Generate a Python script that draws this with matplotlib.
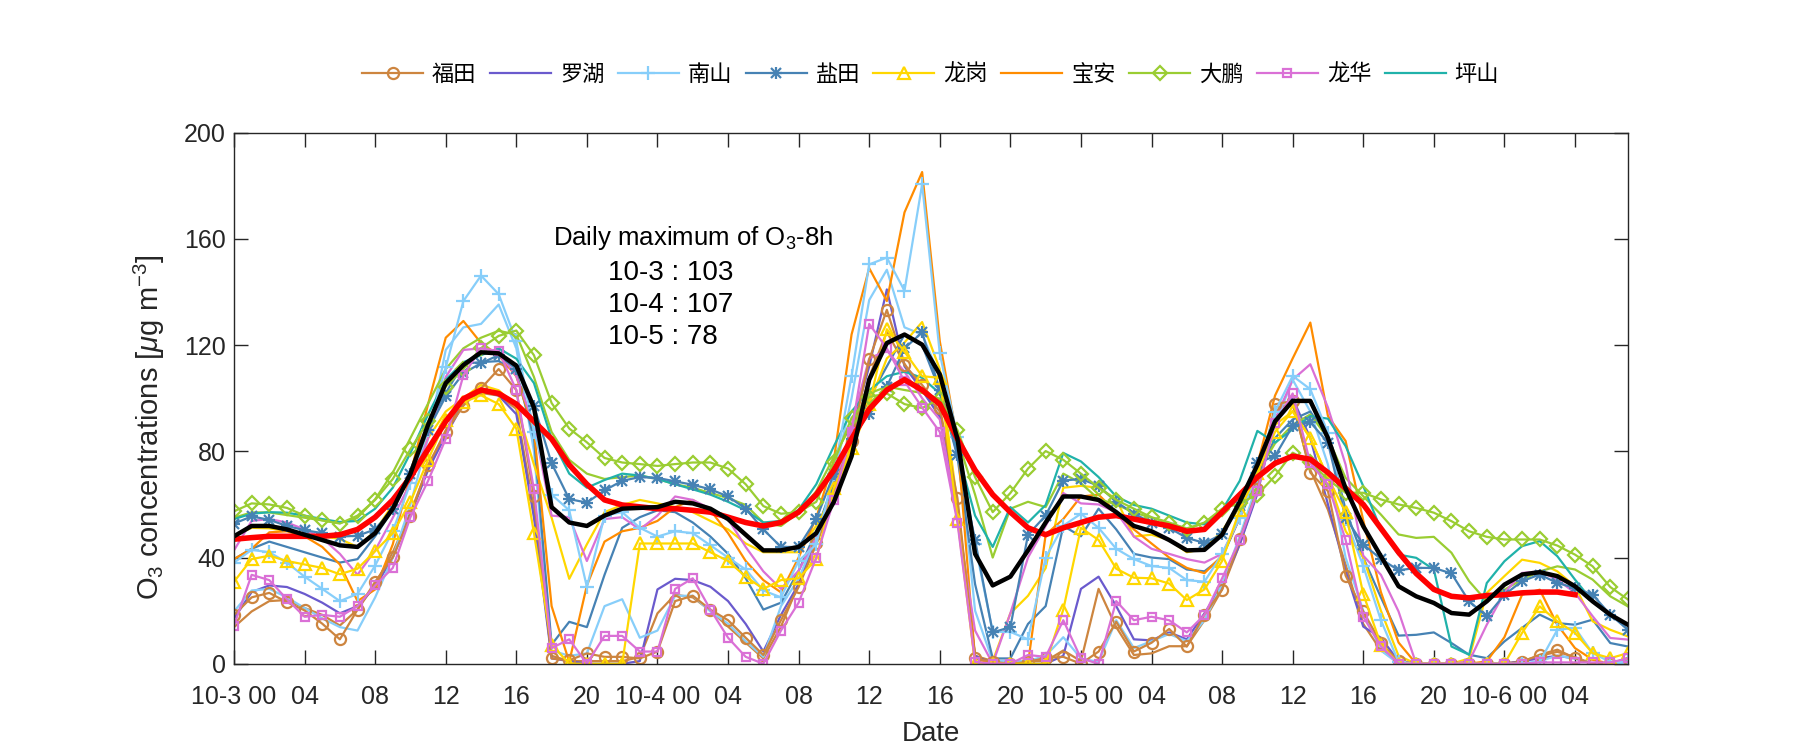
import matplotlib
matplotlib.use('Agg')
import matplotlib.pyplot as plt
import numpy as np

plt.rcParams['font.family'] = ['Liberation Sans', 'Noto Sans CJK SC', 'DejaVu Sans']
plt.rcParams['mathtext.fontset'] = 'custom'
plt.rcParams['mathtext.rm'] = 'Liberation Sans'
plt.rcParams['mathtext.it'] = 'Liberation Sans:italic'

hours = np.arange(80)
tick_pos = np.arange(0, 80, 4)
tick_labels = ['10-3 00', '04', '08', '12', '16', '20',
               '10-4 00', '04', '08', '12', '16', '20',
               '10-5 00', '04', '08', '12', '16', '20',
               '10-6 00', '04']

# 站点名称与颜色
stations = ['福田', '罗湖', '南山', '盐田', '龙岗', '宝安', '大鹏', '龙华', '坪山']
colors = ['#CD853F', '#6A5ACD', '#87CEFA', '#4682B4', '#FFD700',
          '#FF8C00', '#9ACD32', '#DA70D6', '#20B2AA']

# 带标记的站点序列 (µg m-3)
futian_m = [18.4, 25, 26.7, 23.2, 20.1, 15.1, 9.2, 20.4, 30.9, 40.1, 55.8, 74.9, 87.3, 97.2, 103.7, 111, 103.1,
            63, 2, 1.3, 3.9, 2.6, 2.6, 2, 4.6, 23.6, 25.6, 20.4, 16.4, 9.8, 3.3, 16.4,
            28.9, 45.3, 65.7, 84, 114.6, 133.3, 112.5, 105, 96.5, 62.4, 2, 0.7, 0, 0.7, 2.2, 2.6,
            0, 4.6, 15.8, 4.6, 7.9, 13.1, 6.5, 18.5, 27.9, 46.8, 65.7, 97.7, 99, 72, 65, 33.2,
            19.7, 7.8, 0.9, 0, 0, 0, 0, 0, 0, 0.7, 3.4, 5.3, 2.1, 0, 0, 2.2]
nanshan_m = [38.1, 42.9, 42, 38.1, 32.8, 28.2, 23.6, 26.3, 37, 50, 68, 88, 111.6, 136.6, 146.2, 139.2, 121.5,
             87.3, 63.7, 57.8, 28.9, 55.8, 57.1, 51.2, 47.9, 49.9, 49.2, 44.6, 40, 35.5, 27.6, 25,
             38.7, 45, 71.6, 108.3, 150.4, 153, 140.5, 180.6, 116.9, 85.4, 45, 12, 12, 9.2, 40, 52,
             56.5, 51.2, 43.3, 39.4, 36.8, 36.1, 31.5, 30.9, 41.4, 55, 72, 95, 108.4, 103.4, 87, 54.5,
             36.8, 16.4, 0.7, 0, 0, 0, 0, 0, 0, 0, 0.7, 12.8, 13.5, 4, 0.7, 0.7]
yantian_m = [52.8, 55.5, 54.2, 51.9, 50.3, 49.2, 47.9, 48.2, 50.6, 58.4, 71.6, 88, 100.7, 109.4, 113.2, 116.2, 111,
             97.2, 75.5, 62, 60.7, 65.3, 68.9, 70.3, 70, 68.7, 67.4, 65.7, 63, 58.4, 50.6, 44,
             44, 54.5, 71.6, 84.7, 94.2, 104.4, 118.8, 124.8, 103.1, 78.8, 46.6, 11.8, 13.8, 48.6, 55.8, 69,
             69.6, 67, 61, 56.5, 53.2, 51.2, 47.4, 45.5, 48.7, 59.4, 75.7, 78.2, 89.6, 91, 83.3, 55,
             44.9, 39.5, 35.2, 36.1, 36.1, 34, 23.5, 17.9, 26, 31.1, 33.6, 30.4, 28.6, 26, 18.5, 12.8]
longgang_m = [30.9, 39.4, 40.7, 38.7, 37.4, 36.1, 33.7, 35.8, 42.4, 49.2, 61, 76.8, 91.9, 98.5, 101.1, 97.8, 88.6,
              49.2, 7.2, 0, 0, 0, 0, 45.3, 45.3, 45.3, 45.3, 42, 38.7, 32.8, 28.2, 31.5,
              32.2, 39.4, 66.3, 81.4, 97.8, 126, 117.5, 108.3, 107.7, 54.5, 0, 0, 0, 0, 0, 20.4,
              51.2, 46.6, 35.8, 32.4, 32.2, 30.2, 24, 28, 38.7, 58, 72, 87.3, 95.2, 85, 70, 57,
              26.3, 7.2, 0, 0, 0, 0, 0, 0, 0, 11.6, 21.6, 16, 11.6, 4, 2.1, 4]
dapeng_m = [57.4, 60.4, 60, 58.7, 55.8, 54, 52.8, 55.8, 61.7, 69.6, 80.8, 91.3, 104.4, 111, 118.9, 123.5, 125.5,
            116.2, 98.2, 88.6, 83.4, 77.5, 75.8, 75.2, 74.5, 75.2, 75.8, 75.8, 73.5, 67.6, 59.4, 56.5,
            57.1, 61, 76, 92.6, 100.5, 101.8, 97.8, 96.3, 99.8, 88, 70.3, 57.1, 64.3, 73.5, 80.1, 76.8,
            71.6, 66.3, 61.7, 58.4, 55.2, 53.2, 50.6, 53.2, 58.4, 60.4, 63.7, 70.7, 79.5, 76, 69.4, 64.4,
            64.4, 61.9, 60, 58.7, 56.9, 53.7, 49.9, 47.8, 46.8, 46.8, 46.8, 44.5, 41.1, 36.7, 28.9, 24.2]
longhua_m = [14.4, 33.5, 31.5, 24.3, 17.7, 18.4, 17.7, 21.7, 29.5, 36.1, 55.2, 68.9, 84.7, 108.6, 118.8, 117.8, 103.1,
             65.7, 5.9, 9.2, 0, 10.5, 10.5, 4.6, 4.6, 28.2, 32.2, 20.4, 9.8, 2.6, 0, 12.5,
             23, 40, 61.7, 87.3, 128, 118.8, 106.4, 96.5, 87.3, 53.2, 0.7, 0, 0, 3.3, 2.6, 16.4,
             2, 0, 23.6, 16.4, 17.7, 16.4, 11.8, 18.4, 32.2, 46.6, 65, 90.6, 101.8, 75.5, 67.6, 46.6,
             17.7, 6.6, 0, 0, 0, 0, 0, 0, 0, 0, 0.5, 0.5, 0.5, 0.5, 0.5, 2]

# 无标记的站点序列
futian_p = [13.8, 19.7, 23.6, 24, 21, 18.4, 14.4, 20.4, 30, 42, 57, 74, 88, 99, 102, 101, 96,
            58, 3, 1, 1, 1, 1, 2.5, 19, 26, 25, 20, 14, 8, 2, 14,
            30, 45, 62, 83, 108, 125, 113, 103, 95, 60, 3, 1, 1, 1, 1, 5,
            1, 28.2, 13.8, 3.3, 3.9, 6.6, 6.6, 16.4, 28, 45, 65, 96.5, 97.8, 73, 58, 37.4,
            15, 5, 1, 0, 0, 0, 0, 0, 0, 1, 3, 4.5, 2.5, 0, 0, 2]
luohu_p = [17, 27, 29.5, 28.9, 26.3, 23, 19, 21.7, 29, 40, 56, 73, 86, 98, 103, 101, 94,
           55, 2, 1, 0, 0, 0, 1, 28, 32, 31.5, 29, 23.6, 15, 4.6, 18.4,
           30, 48, 68, 88, 112, 141, 112, 103, 93, 55, 3, 0, 0, 0, 0, 3,
           28.2, 32.8, 21.7, 9.2, 8.8, 11.8, 9.2, 19, 29.5, 45, 64, 92, 100, 85, 60, 35,
           14, 9.8, 1, 0, 0, 0, 0, 0, 0, 1, 2, 3, 2, 0, 0, 1]
nanshan_p = [19.7, 27.6, 28.2, 25, 21, 17.1, 13.8, 12.5, 25, 40, 60, 85, 118.2, 126.7, 128, 135.3, 118.8,
             80, 5, 3, 3.9, 21.7, 24.3, 9.8, 12.5, 25.6, 25.6, 19.7, 15.1, 8.5, 2.6, 21.7,
             32, 48, 70, 100, 137, 148.4, 126.7, 124, 108.3, 84.7, 20, 1, 1, 1, 3, 10,
             2, 0.7, 16.4, 5.9, 8.5, 11.2, 8.5, 16.4, 30, 48, 68, 90, 107, 95, 75, 40,
             20, 5, 0, 0, 0, 0, 0, 0, 0, 0, 1, 3, 2, 0, 0, 0]
yantian_p = [39.4, 43.3, 46, 44, 42, 40, 38.1, 39.4, 48, 58, 73, 90, 102, 113, 113.6, 114, 110,
             85, 7.2, 15.8, 13.8, 33.5, 51.2, 55.2, 57.8, 57.1, 53.2, 47.9, 41.4, 32.2, 20.4, 23,
             35, 50, 68, 85, 100, 112, 124, 120, 103, 78, 30, 2, 2, 15, 21.7, 51.9,
             48, 58.4, 50.6, 41.4, 40, 39.4, 35.5, 34.8, 40, 55, 70, 85, 92, 95, 85, 58,
             40, 25, 10.6, 10.9, 11.8, 7.8, 3.4, 2.1, 8.4, 13.5, 18.5, 15.3, 14.7, 16.6, 7.8, 6.5]
longgang_p = [48, 51.2, 51, 50, 49, 48, 47, 44, 50, 60, 72, 85, 95, 100, 105, 103, 97,
              75, 55, 32, 45, 57.1, 59.8, 61.7, 60.4, 59, 57.1, 53.8, 50.6, 45.3, 42, 42,
              42, 52, 64, 80, 98, 115, 121, 128.7, 111, 60, 0, 1, 19, 25.6, 36, 66.3,
              67, 66.3, 62, 47.9, 48.6, 46.6, 42, 43.3, 50, 60, 75, 90, 95, 85, 70, 50,
              40, 20, 3, 0, 0, 0, 2, 26.7, 33, 39.2, 38, 34.8, 29.2, 16, 12.8, 10.3]
baoan_p = [39.4, 43.3, 49.5, 49.9, 48, 44, 37.4, 23.6, 28, 45, 71.6, 97.8, 122.8, 129.1, 120.8, 116.2, 108.3,
           88, 21.7, 0.7, 29.5, 46, 49.9, 51.2, 53.8, 59, 61.7, 57.8, 49.2, 38.7, 31.5, 26.9,
           40, 55, 76.8, 124, 149, 136.6, 170, 185.2, 121.5, 84, 2, 0, 0, 0, 48.6, 54.5,
           63, 63.7, 57.1, 50.6, 45.3, 40, 36.1, 34.1, 40.7, 55, 75, 101, 115, 128.5, 93.3, 83.9,
           54, 27, 8, 0, 0, 0, 0, 0.9, 10, 26, 27.9, 14.7, 5.9, 1.5, 0, 2]
dapeng_p = [55, 57, 57, 56, 55, 54, 53, 55, 62, 72, 85, 98, 111, 118.8, 122.8, 125.4, 124,
            108, 87.3, 76.8, 71.6, 69.6, 70.3, 70.9, 69.6, 67.6, 66.3, 64.3, 62.4, 59.8, 53.2, 51.9,
            57, 65, 78, 90, 101.8, 104.4, 103.1, 102, 99.8, 84.7, 63.7, 40, 58.4, 61, 59, 71.6,
            68, 62, 60, 57, 55, 53, 51, 53, 58, 63, 72, 83, 90, 93.9, 85, 70,
            63.1, 56.2, 48.7, 47.4, 47.8, 41.8, 31.1, 23.5, 27.9, 31.7, 34.8, 36.7, 35.5, 31.7, 25.4, 21.6]
longhua_p = [42.7, 53.8, 54.5, 53.2, 50.6, 47.3, 41.4, 33.5, 42.7, 55, 68, 85, 108, 118.2, 118.8, 117.5, 108.3,
             90, 55.8, 55.2, 38.7, 54.5, 55.2, 50.6, 55.8, 63, 61.7, 58.4, 54.5, 44, 34.8, 28.2,
             35, 48, 65, 90, 115, 118, 110, 100, 92, 55, 12.5, 0, 19, 40, 51.9, 64.3,
             60.4, 60, 57.1, 47.9, 43.3, 41.4, 39.4, 38.1, 41.4, 55, 72, 92, 107, 112.8, 96.5, 75,
             40.7, 33.5, 19.7, 0, 0, 0, 0.9, 14.7, 26.7, 34.2, 34.8, 31.7, 26.7, 17.9, 9.7, 9.1]
pingshan_p = [54.5, 56.5, 57.1, 56.9, 55.8, 54.5, 53.4, 53.8, 58.4, 66.3, 79.4, 93.9, 107, 113.6, 116.2, 118.8, 114.9,
              105.7, 84.7, 71.6, 66.3, 69.2, 71.6, 70.9, 69.6, 67.6, 65.7, 63.7, 61, 57.8, 53.2, 53.8,
              58, 67.6, 82, 95, 103, 108.3, 110, 107.7, 101.8, 80.1, 55.8, 44, 59, 53.2, 59.8, 79.4,
              76.2, 70.3, 63, 59.8, 58.4, 55.8, 53.2, 52.5, 57.8, 68.9, 87.7, 83.3, 88.3, 93.3, 92.3, 82,
              66.9, 50.6, 41.1, 39.9, 35.5, 6.5, 3.4, 30.4, 38.6, 44.3, 46.2, 40.5, 31.7, 23.5, 17.9, 14.7]

# 全市平均与8小时滑动平均
city_mean = [48, 51.9, 51.9, 50.6, 48.6, 46.6, 44.6, 44, 49.2, 58.4, 71.6, 90, 105.7, 112.5, 117.3, 116.9, 112.3,
             96.5, 59, 53.2, 51.9, 55.8, 58.4, 58.7, 59, 61, 60.4, 58.4, 54.5, 48.6, 42.7, 42.7,
             44, 49.2, 61, 78.1, 107, 120.8, 124, 120.2, 109, 84.7, 41.4, 29.5, 32.8, 42.7, 53.2, 63,
             63, 61.7, 57.1, 51.9, 49.9, 46.6, 42.7, 42.9, 48.6, 61, 74.9, 91.3, 99, 99, 85, 66,
             51.8, 40.5, 29.2, 25.4, 22.9, 19.1, 18.5, 23.5, 29.8, 33.6, 34.5, 33, 29.2, 23.5, 18.5, 14.7]
city_8h = [46.9, 47.5, 48, 48, 48, 48, 48.6, 50.6, 55.2, 61.7, 70.3, 80.8, 91.3, 99.8, 103.1, 101.8, 97.8,
           91.3, 84.7, 74.9, 67.6, 61.7, 59.8, 59.1, 58.4, 58.4, 57.8, 57.1, 55.2, 53.2, 51.9, 53.2,
           57.1, 63.7, 72.9, 84.7, 95.9, 103.1, 107, 103.1, 97.8, 84.7, 72.9, 63.7, 57.1, 51.2, 48.6, 51.2,
           53.2, 55.2, 55.8, 54.5, 53.2, 51.9, 49.9, 50.6, 57.1, 63.7, 70.3, 75.5, 78.2, 77, 72, 66,
           60, 51, 42, 34, 28, 25.4, 24.8, 25.7, 26, 26.7, 27, 27, 26, np.nan, np.nan, np.nan]

plain = [futian_p, luohu_p, nanshan_p, yantian_p, longgang_p, baoan_p, dapeng_p, longhua_p, pingshan_p]
marked = {0: (futian_m, 'o', 8), 2: (nanshan_m, '+', 10), 3: (yantian_m, '+', 9),
          4: (longgang_m, '^', 8), 6: (dapeng_m, 'D', 7), 7: (longhua_m, 's', 6)}

fig = plt.figure(figsize=(18, 7.5), dpi=100)
ax = fig.add_axes([0.13, 0.115, 0.7744, 0.708])

handles = []
for i, name in enumerate(stations):
    ln, = ax.plot(hours, plain[i], '-', color=colors[i], lw=1.6)
    handles.append(ln)
for i, (vals, mk, ms) in marked.items():
    ln, = ax.plot(hours, vals, '-', color=colors[i], lw=1.6, marker=mk, ms=ms,
                  mfc='none', mec=colors[i], mew=1.6)
    handles[i] = ln
    if i == 3:
        # 星号标记 = 加号 + 叉号
        lx, = ax.plot(hours, vals, ls='none', marker='x', ms=7, mec=colors[i], mew=1.6)
        handles[i] = (ln, lx)

ax.plot(hours, city_8h, '-', color='red', lw=4)
ax.plot(hours, city_mean, '-', color='black', lw=3.2)

ax.set_xlim(0, 79)
ax.set_ylim(0, 200)
ax.set_xticks(tick_pos)
ax.set_xticklabels(tick_labels)
ax.set_yticks(np.arange(0, 201, 40))
ax.tick_params(direction='in', length=10, width=1, top=True, right=True,
               labelsize=18, colors='#262626', pad=6)
ax.tick_params(axis='x', pad=15)
for sp in ax.spines.values():
    sp.set_color('#262626')
    sp.set_linewidth(1)

ax.set_xlabel('Date', fontsize=20, color='#262626', labelpad=9)
ax.set_ylabel(r'O$_3$ concentrations [$\mu$g m$^{-3}$]', fontsize=21, color='#262626', labelpad=12)
ax.yaxis.label.set_y(0.446)

ax.text(18.1, 160.5, r'Daily maximum of O$_3$-8h', fontsize=18.5, va='center')
ax.text(21.2, 147, '10-3 : 103', fontsize=20, va='center')
ax.text(21.2, 135, '10-4 : 107', fontsize=20, va='center')
ax.text(21.2, 123, '10-5 : 78', fontsize=20, va='center')

fig.legend(handles, stations, loc='center', bbox_to_anchor=(0.517, 0.9), ncol=9,
           frameon=False, fontsize=16, handlelength=2.75, handletextpad=0.4,
           columnspacing=0.6)

fig.savefig('out.png', dpi=100)
